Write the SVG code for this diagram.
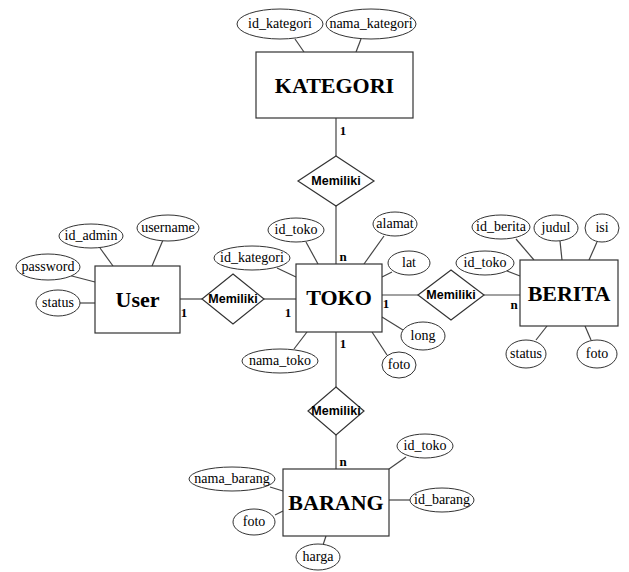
<svg xmlns="http://www.w3.org/2000/svg" width="629" height="572" viewBox="0 0 629 572">
<style>
.ent{fill:#fff;stroke:#333;stroke-width:1.2}
.att{fill:#fff;stroke:#333;stroke-width:1}
.rel{fill:#fff;stroke:#333;stroke-width:1.2}
.ln{stroke:#444;stroke-width:1.2;fill:none}
.et{font-family:"Liberation Serif",serif;font-weight:bold;font-size:22px;text-anchor:middle;fill:#000}
.at{font-family:"Liberation Serif",serif;font-size:14px;text-anchor:middle;fill:#000}
.rt{font-family:"Liberation Sans",sans-serif;font-weight:bold;font-size:12.5px;text-anchor:middle;fill:#000}
.ct{font-family:"Liberation Serif",serif;font-weight:bold;font-size:13px;text-anchor:middle;fill:#000}
</style>
<rect width="629" height="572" fill="#fff"/>
<g id="connectors">
<line class="ln" x1="295" y1="39" x2="304" y2="52"/>
<line class="ln" x1="361" y1="39" x2="356" y2="52"/>
<line class="ln" x1="336" y1="118" x2="336" y2="156"/>
<line class="ln" x1="336" y1="206" x2="336" y2="264"/>
<line class="ln" x1="180" y1="299" x2="202" y2="299"/>
<line class="ln" x1="264" y1="299" x2="296" y2="299"/>
<line class="ln" x1="382" y1="295" x2="418" y2="295"/>
<line class="ln" x1="484" y1="295" x2="520" y2="295"/>
<line class="ln" x1="336" y1="332" x2="336" y2="387"/>
<line class="ln" x1="336" y1="435" x2="336" y2="469"/>
<line class="ln" x1="163" y1="240" x2="152" y2="266"/>
<line class="ln" x1="100" y1="248" x2="113" y2="266"/>
<line class="ln" x1="68" y1="275" x2="95" y2="282"/>
<line class="ln" x1="80" y1="303" x2="95" y2="303"/>
<line class="ln" x1="306" y1="242" x2="318" y2="264"/>
<line class="ln" x1="277" y1="268" x2="296" y2="277"/>
<line class="ln" x1="384" y1="236" x2="364" y2="264"/>
<line class="ln" x1="392" y1="272" x2="382" y2="277"/>
<line class="ln" x1="403" y1="330" x2="382" y2="317"/>
<line class="ln" x1="387" y1="355" x2="372" y2="332"/>
<line class="ln" x1="294" y1="349" x2="307" y2="332"/>
<line class="ln" x1="516" y1="239" x2="534" y2="260"/>
<line class="ln" x1="560" y1="241" x2="562" y2="260"/>
<line class="ln" x1="597" y1="242" x2="589" y2="260"/>
<line class="ln" x1="507" y1="271" x2="520" y2="276"/>
<line class="ln" x1="536" y1="340" x2="547" y2="326"/>
<line class="ln" x1="591" y1="340" x2="585" y2="326"/>
<line class="ln" x1="406" y1="457" x2="389" y2="469"/>
<line class="ln" x1="389" y1="500" x2="410" y2="500"/>
<line class="ln" x1="270" y1="487" x2="283" y2="491"/>
<line class="ln" x1="275" y1="515" x2="283" y2="511"/>
<line class="ln" x1="323" y1="545" x2="326" y2="536"/>
<text class="ct" x="343" y="135">1</text>
<text class="ct" x="343" y="261">n</text>
<text class="ct" x="184" y="317">1</text>
<text class="ct" x="288" y="317">1</text>
<text class="ct" x="386" y="308">1</text>
<text class="ct" x="514" y="309">n</text>
<text class="ct" x="343" y="348">1</text>
<text class="ct" x="343" y="466">n</text>
</g>
<g id="KATEGORI">
<rect class="ent" x="256" y="52" width="157" height="66"/>
<text class="et" x="334.5" y="93">KATEGORI</text>
</g>
<g id="attr-id_kategori"><ellipse class="att" cx="280" cy="24" rx="43" ry="15"/><text class="at" x="280" y="28">id_kategori</text></g>
<g id="attr-nama_kategori"><ellipse class="att" cx="371" cy="24" rx="45" ry="15"/><text class="at" x="371" y="28">nama_kategori</text></g>
<g id="rel-kategori-toko">
<polygon class="rel" points="336,156 374,181 336,206 298,181"/>
<text class="rt" x="336" y="185">Memiliki</text>
</g>
<g id="User">
<rect class="ent" x="95" y="266" width="85" height="67"/>
<text class="et" x="137.5" y="307">User</text>
</g>
<g id="attr-username"><ellipse class="att" cx="168" cy="228" rx="31" ry="13"/><text class="at" x="168" y="232">username</text></g>
<g id="attr-id_admin"><ellipse class="att" cx="91" cy="236" rx="32" ry="12"/><text class="at" x="91" y="240">id_admin</text></g>
<g id="attr-password"><ellipse class="att" cx="48" cy="267" rx="32" ry="13"/><text class="at" x="48" y="271">password</text></g>
<g id="attr-status-user"><ellipse class="att" cx="58" cy="303" rx="22" ry="13"/><text class="at" x="58" y="307">status</text></g>
<g id="rel-user-toko">
<polygon class="rel" points="233,274 264,299 233,324 202,299"/>
<text class="rt" x="233" y="303">Memiliki</text>
</g>
<g id="TOKO">
<rect class="ent" x="296" y="264" width="86" height="68"/>
<text class="et" x="339" y="305">TOKO</text>
</g>
<g id="attr-id_toko"><ellipse class="att" cx="296" cy="230" rx="28" ry="12"/><text class="at" x="296" y="234">id_toko</text></g>
<g id="attr-id_kategori-toko"><ellipse class="att" cx="252" cy="258" rx="38" ry="12"/><text class="at" x="252" y="262">id_kategori</text></g>
<g id="attr-alamat"><ellipse class="att" cx="395" cy="224" rx="22" ry="12"/><text class="at" x="395" y="228">alamat</text></g>
<g id="attr-lat"><ellipse class="att" cx="409" cy="263" rx="21" ry="12"/><text class="at" x="409" y="267">lat</text></g>
<g id="attr-long"><ellipse class="att" cx="423" cy="336" rx="22" ry="14"/><text class="at" x="423" y="340">long</text></g>
<g id="attr-foto-toko"><ellipse class="att" cx="399" cy="365" rx="17" ry="13"/><text class="at" x="399" y="369">foto</text></g>
<g id="attr-nama_toko"><ellipse class="att" cx="280" cy="361" rx="38" ry="12"/><text class="at" x="280" y="365">nama_toko</text></g>
<g id="rel-toko-berita">
<polygon class="rel" points="451,270 484,295 451,320 418,295"/>
<text class="rt" x="451" y="299">Memiliki</text>
</g>
<g id="BERITA">
<rect class="ent" x="520" y="260" width="98" height="66"/>
<text class="et" x="569" y="301">BERITA</text>
</g>
<g id="attr-id_berita"><ellipse class="att" cx="501" cy="227" rx="29" ry="12"/><text class="at" x="501" y="231">id_berita</text></g>
<g id="attr-judul"><ellipse class="att" cx="556" cy="228" rx="22" ry="13"/><text class="at" x="556" y="232">judul</text></g>
<g id="attr-isi"><ellipse class="att" cx="602" cy="228" rx="17" ry="14"/><text class="at" x="602" y="232">isi</text></g>
<g id="attr-id_toko-berita"><ellipse class="att" cx="485" cy="263" rx="29" ry="12"/><text class="at" x="485" y="267">id_toko</text></g>
<g id="attr-status-berita"><ellipse class="att" cx="526" cy="354" rx="20" ry="14"/><text class="at" x="526" y="358">status</text></g>
<g id="attr-foto-berita"><ellipse class="att" cx="597" cy="354" rx="20" ry="14"/><text class="at" x="597" y="358">foto</text></g>
<g id="rel-toko-barang">
<polygon class="rel" points="336,387 364,411 336,435 308,411"/>
<text class="rt" x="336" y="415">Memiliki</text>
</g>
<g id="BARANG">
<rect class="ent" x="283" y="469" width="106" height="67"/>
<text class="et" x="336" y="510">BARANG</text>
</g>
<g id="attr-id_toko-barang"><ellipse class="att" cx="425" cy="446" rx="28" ry="12"/><text class="at" x="425" y="450">id_toko</text></g>
<g id="attr-id_barang"><ellipse class="att" cx="442" cy="500" rx="32" ry="12"/><text class="at" x="442" y="504">id_barang</text></g>
<g id="attr-nama_barang"><ellipse class="att" cx="232" cy="479" rx="43" ry="12"/><text class="at" x="232" y="483">nama_barang</text></g>
<g id="attr-foto-barang"><ellipse class="att" cx="254" cy="522" rx="21" ry="13"/><text class="at" x="254" y="526">foto</text></g>
<g id="attr-harga"><ellipse class="att" cx="318" cy="557" rx="22" ry="13"/><text class="at" x="318" y="561">harga</text></g>
</svg>
